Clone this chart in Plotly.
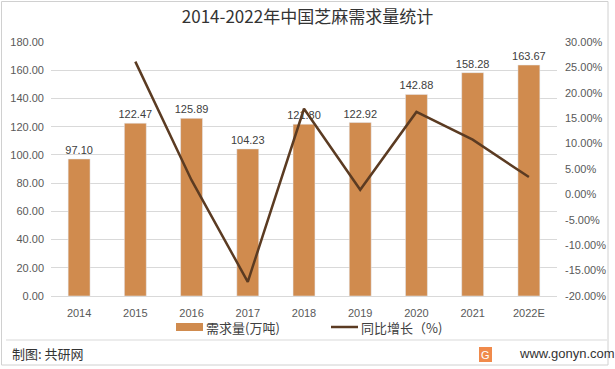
import plotly.graph_objects as go

years = ["2014", "2015", "2016", "2017", "2018", "2019", "2020", "2021", "2022E"]
demand = [97.10, 122.47, 125.89, 104.23, 121.80, 122.92, 142.88, 158.28, 163.67]
growth_years = ["2015", "2016", "2017", "2018", "2019", "2020", "2021", "2022E"]
growth = [26.13, 2.79, -17.21, 16.86, 0.92, 16.24, 10.78, 3.41]
left_ticks = [0, 20, 40, 60, 80, 100, 120, 140, 160, 180]
right_ticks = [-20, -15, -10, -5, 0, 5, 10, 15, 20, 25, 30]
bar_name = "需求量(万吨)"
line_name = "同比增长（%)"

BAR = "#D08B4E"
LINE = "#5B3B22"
TICK_FONT = dict(family="Liberation Sans, Arial, sans-serif", size=11, color="#595959")
CJK = "Noto Sans CJK SC, sans-serif"

fig = go.Figure()
fig.add_trace(go.Bar(
    x=years, y=demand, name=bar_name, marker_color=BAR,
    text=[f"{v:.2f}" for v in demand], textposition="outside",
    textfont=dict(family="Liberation Sans, Arial, sans-serif", size=11, color="#404040"),
    cliponaxis=False, constraintext="none", showlegend=False,
))
fig.add_trace(go.Scatter(
    x=growth_years, y=growth, name=line_name, mode="lines",
    line=dict(color=LINE, width=2.5), yaxis="y2", showlegend=False,
))

W, H = 615, 369
L, R, T, B = 51, 58, 42, 73
pw, ph = W - L - R, H - T - B

def px(x):
    return (x - L) / pw

def py(y):
    return (H - B - y) / ph

fig.update_layout(
    width=W, height=H,
    margin=dict(l=L, r=R, t=T, b=B, autoexpand=False),
    paper_bgcolor="white", plot_bgcolor="white",
    bargap=0.61,
    title=dict(text="2014-2022年中国芝麻需求量统计", x=0.5, xanchor="center",
               y=1 - 17 / H, yanchor="middle",
               font=dict(family=CJK, size=17, color="#333333")),
    xaxis=dict(type="category", tickfont=TICK_FONT, showgrid=False, automargin=False,
               showline=True, linecolor="#D9D9D9", ticks="", ticklabelstandoff=7),
    yaxis=dict(range=[0, 180], tickvals=left_ticks, automargin=False,
               ticktext=[f"{v:.2f}" for v in left_ticks],
               tickfont=TICK_FONT, showgrid=True, gridcolor="#D9D9D9",
               zeroline=False, showline=False, ticklabelstandoff=6),
    yaxis2=dict(range=[-20, 30], tickvals=right_ticks, automargin=False,
                ticktext=[f"{v:.2f}%" for v in right_ticks],
                tickfont=TICK_FONT, overlaying="y", side="right",
                showgrid=False, zeroline=False, showline=False, ticklabelstandoff=7),
    showlegend=False,
    font=dict(family=CJK),
)

shapes = [
    # legend swatches
    dict(type="rect", xref="paper", yref="paper",
         x0=px(176), x1=px(203), y0=py(331), y1=py(323),
         fillcolor=BAR, line=dict(width=0)),
    dict(type="line", xref="paper", yref="paper",
         x0=px(331), x1=px(358), y0=py(327), y1=py(327),
         line=dict(color=LINE, width=2.5)),
    # footer separator and frame
    dict(type="line", xref="paper", yref="paper",
         x0=px(6), x1=px(607), y0=py(340), y1=py(340),
         line=dict(color="#D9D9D9", width=1)),
    dict(type="rect", xref="paper", yref="paper",
         x0=px(1.5), x1=px(608), y0=py(365), y1=py(1.5),
         line=dict(color="#D0D0D0", width=1)),
    dict(type="rect", xref="paper", yref="paper",
         x0=px(479), x1=px(492), y0=py(362), y1=py(347),
         fillcolor="#F08A4B", line=dict(width=0), layer="above"),
]
fig.update_layout(shapes=shapes)

fig.add_annotation(text=bar_name, xref="paper", yref="paper",
                   x=px(204), y=py(327), xanchor="left", yanchor="middle",
                   showarrow=False, font=dict(family=CJK, size=13, color="#404040"))
fig.add_annotation(text=line_name, xref="paper", yref="paper",
                   x=px(359), y=py(327), xanchor="left", yanchor="middle",
                   showarrow=False, font=dict(family=CJK, size=13, color="#404040"))
fig.add_annotation(text="制图: 共研网", xref="paper", yref="paper",
                   x=px(10), y=py(353), xanchor="left", yanchor="middle",
                   showarrow=False, font=dict(family=CJK, size=13, color="#333333"))
fig.add_annotation(text="G", xref="paper", yref="paper",
                   x=px(485.5), y=py(354.5), xanchor="center", yanchor="middle",
                   showarrow=False, font=dict(family="Liberation Sans, Arial", size=11, color="white"))
fig.add_annotation(text="www.gonyn.com", xref="paper", yref="paper",
                   x=px(517), y=py(353), xanchor="left", yanchor="middle",
                   showarrow=False, font=dict(family="Liberation Sans, Arial", size=13, color="#333333"))

fig.write_html("out.html", config={"displayModeBar": False},
               post_script="document.body.style.margin='0';document.body.style.overflow='hidden';")
